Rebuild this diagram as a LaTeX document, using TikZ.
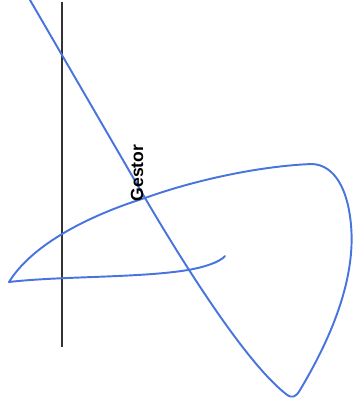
\documentclass[tikz,border=0pt]{standalone}
\usepackage{fontspec}
\setmainfont{Liberation Sans}
\usetikzlibrary{positioning}

\definecolor{penblue}{RGB}{72,116,222}

\begin{document}
\begin{tikzpicture}[x=0.02cm, y=-0.02cm,
    every node/.style={font=\fontsize{10}{12}\selectfont\bfseries},
    stroke/.style={penblue, line width=1.1pt, line join=round, line cap=round},
    axis/.style={black!80, line width=0.8pt}]
  \useasboundingbox (0,0) rectangle (353,405);
  % vertical line
  \coordinate (top) at (62,2);
  \coordinate (bot) at (62,347);
  \draw[axis] (top) -- (bot);
  % the loop
  \coordinate (start) at (30,0);
  \coordinate (x) at (145,198);
  \coordinate (tip) at (9,282);
  \coordinate (end) at (225,256);
  \draw[stroke] (start) -- (x)
    .. controls (205,300) and (255,370) .. (286,394)
    .. controls (292,399) and (296,397) .. (300,390)
    .. controls (330,340) and (356,280) .. (351,225)
    .. controls (348,190) and (335,165) .. (312,164)
    .. controls (260,166) and (195,180) .. (x)
    .. controls (100,212) and (35,240) .. (tip)
    .. controls (60,276) and (140,278) .. (188,270)
    .. controls (205,267) and (220,262) .. (end);
  \node[rotate=90, inner sep=0pt] (gestor) at (137,173) {Gestor};
\end{tikzpicture}
\end{document}
